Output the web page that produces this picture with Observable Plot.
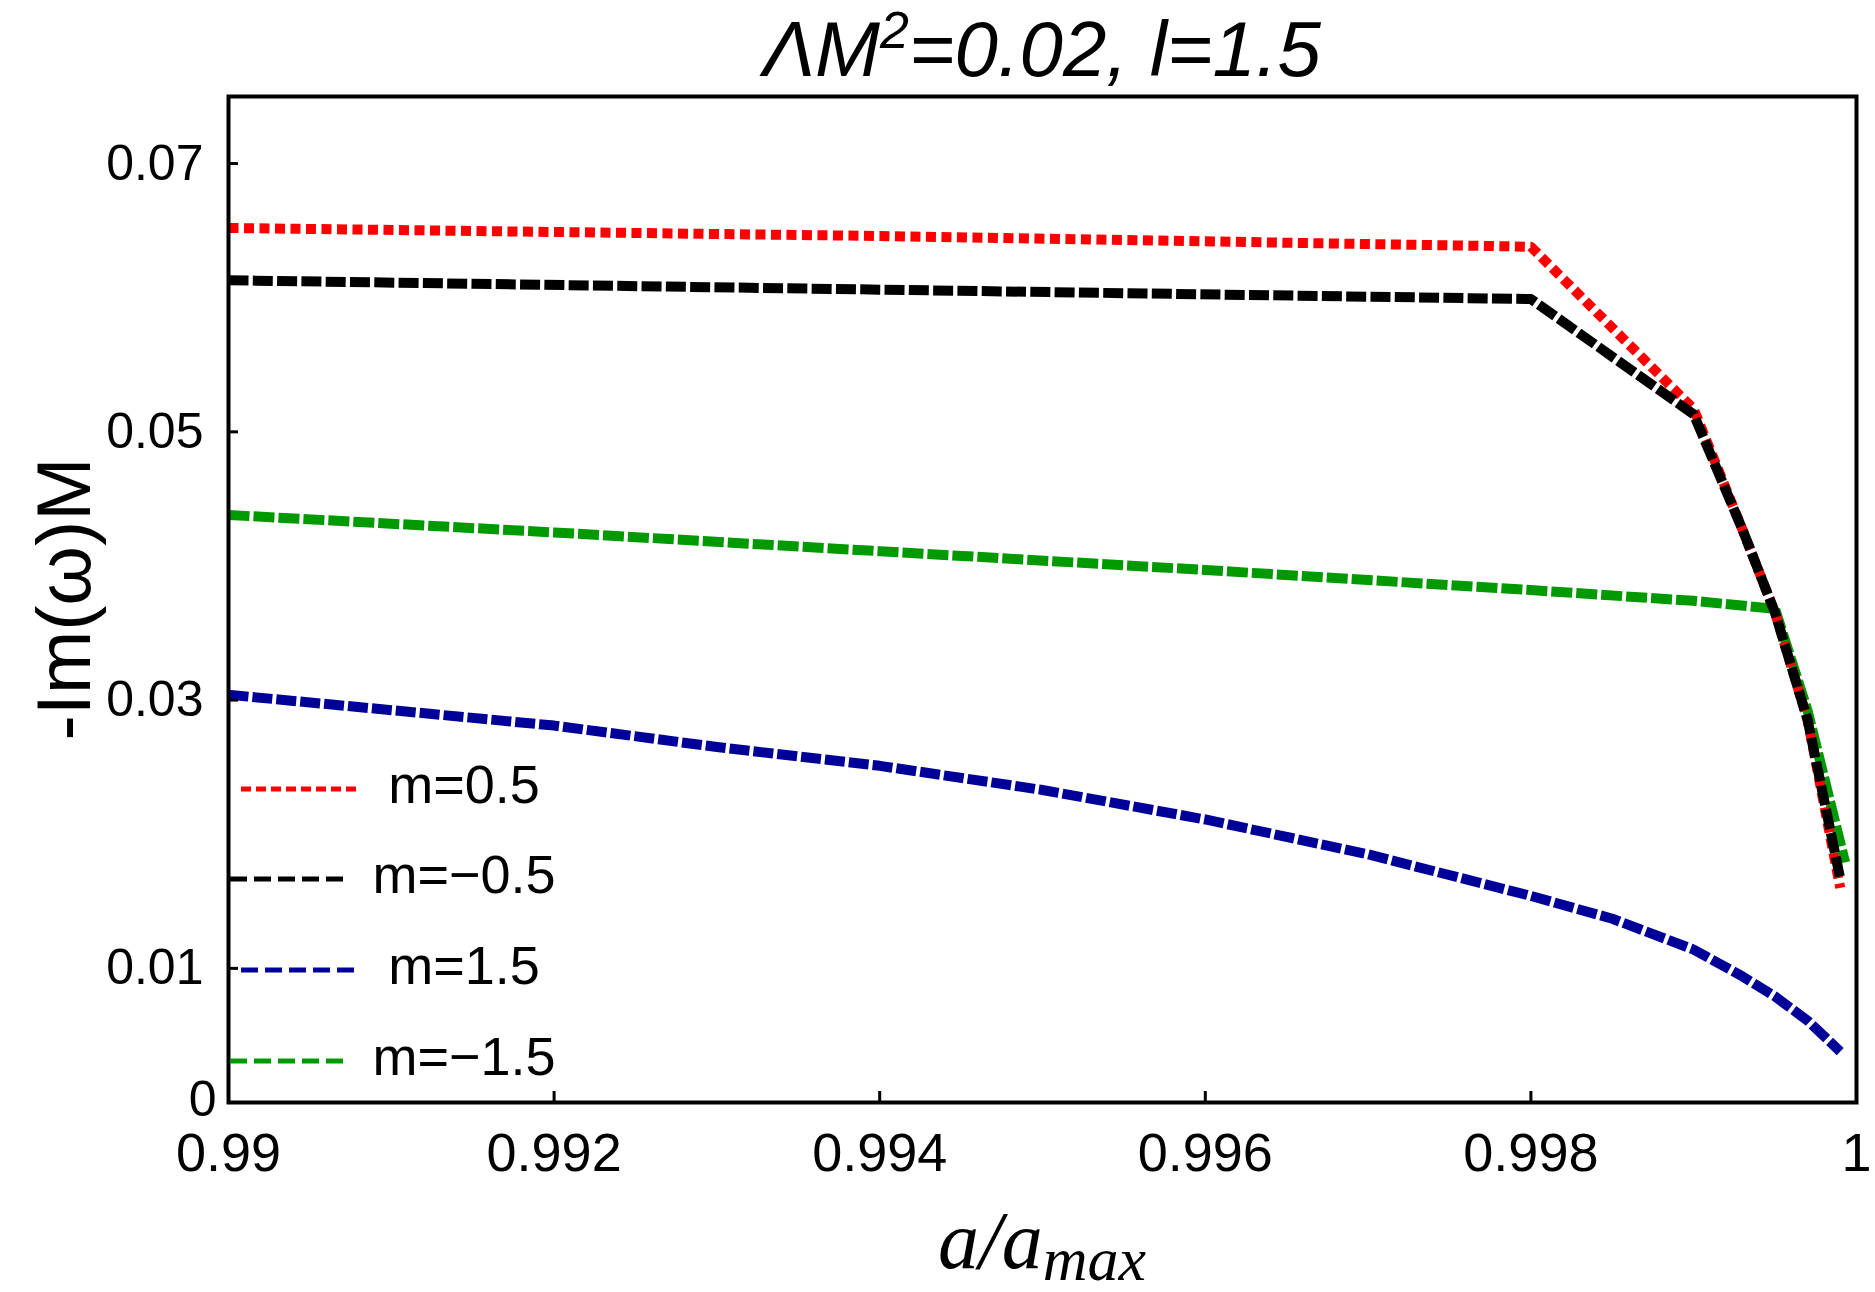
<!DOCTYPE html>
<html>
<head>
<meta charset="utf-8">
<script src="https://cdn.jsdelivr.net/npm/d3@7"></script>
<script src="https://cdn.jsdelivr.net/npm/@observablehq/plot@0.6"></script>
<style>
  html, body { margin: 0; padding: 0; background: #fff; }
  #wrap { position: relative; width: 1875px; height: 1292px; }
  #wrap svg { position: absolute; left: 0; top: 0; }
</style>
</head>
<body>
<div id="wrap"></div>
<script>
// ---- data ----
const seriesNames = ["m=0.5", "m=\u22120.5", "m=1.5", "m=\u22121.5"];

const aRed   = [0.99, 0.994, 0.998, 0.999, 0.9993, 0.9995, 0.9997, 0.9999];
const vRed   = [0.0652, 0.0646, 0.0638, 0.0517, 0.0427, 0.0365, 0.0285, 0.0160];

const aBlack = [0.99, 0.994, 0.998, 0.999, 0.9993, 0.9995, 0.9997, 0.9999];
const vBlack = [0.0613, 0.0606, 0.0599, 0.0513, 0.0427, 0.0365, 0.0285, 0.0167];

const aBlue  = [0.99, 0.992, 0.993, 0.994, 0.995, 0.996, 0.997, 0.998, 0.9985, 0.999, 0.9993, 0.9995, 0.9997, 0.9999];
const vBlue  = [0.0304, 0.0281, 0.0265, 0.0251, 0.0233, 0.0211, 0.0185, 0.0154, 0.0137, 0.0114, 0.0094, 0.0079, 0.0061, 0.0038];

const aGreen = [0.99, 0.992, 0.994, 0.996, 0.998, 0.999, 0.9995, 0.9997, 0.99993];
const vGreen = [0.0438, 0.0425, 0.0411, 0.0397, 0.0382, 0.0374, 0.0368, 0.0292, 0.0179];

const xTicks = [0.99, 0.992, 0.994, 0.996, 0.998, 1];
const yTicks = [0, 0.01, 0.03, 0.05, 0.07];
const xDomain = [0.99, 1.0];
const yDomain = [0, 0.075];

// ---- build tables ----
const toRows = (as, vs) => as.map((a, i) => ({a, v: vs[i]}));
const red = toRows(aRed, vRed);
const black = toRows(aBlack, vBlack);
const blue = toRows(aBlue, vBlue);
const green = toRows(aGreen, vGreen);

const W = 1875, H = 1292;
const mT = 96, mB = 190, mL = 228, mR = 19;
const frameW = W - mL - mR, frameH = H - mT - mB;
const LW = 10;
const yFmt = d => d === 0 ? "0" : d.toFixed(2);

const chart = Plot.plot({
  width: W, height: H,
  marginTop: mT, marginBottom: mB, marginLeft: mL, marginRight: mR,
  style: {fontFamily: "'Liberation Sans', Arial, sans-serif", background: "white", color: "black"},
  x: {domain: xDomain, label: null},
  y: {domain: yDomain, label: null},
  marks: [
    Plot.line(blue,  {x: "a", y: "v", stroke: "#000099", strokeWidth: LW, strokeDasharray: "20,4", strokeLinecap: "butt"}),
    Plot.line(green, {x: "a", y: "v", stroke: "#009900", strokeWidth: LW, strokeDasharray: "21,4", strokeLinecap: "butt"}),
    Plot.line(red,   {x: "a", y: "v", stroke: "#ff0000", strokeWidth: LW, strokeDasharray: "10,5.5", strokeLinecap: "butt"}),
    Plot.line(black, {x: "a", y: "v", stroke: "#000000", strokeWidth: LW, strokeDasharray: "20,4.3", strokeLinecap: "butt"}),
    // inward ticks
    Plot.ruleX(xTicks, {x: d => d, insetTop: frameH - 11, stroke: "black", strokeWidth: 3}),
    Plot.ruleY(yTicks, {y: d => d, insetRight: frameW - 10, stroke: "black", strokeWidth: 3}),
    Plot.frame({stroke: "black", strokeWidth: 4}),
    Plot.axisX(xTicks, {tickSize: 0, tickPadding: 30, fontSize: 54, tickFormat: d => d === 1 ? "1" : String(d), label: null}),
    Plot.axisY(yTicks.filter(d => d !== 0), {tickSize: 0, tickPadding: 25, fontSize: 50, tickFormat: yFmt, label: null}),
    Plot.axisY(yTicks.filter(d => d === 0), {tickSize: 0, tickPadding: 12, fontSize: 50, tickFormat: yFmt, label: null, dy: -3})
  ]
});
document.getElementById("wrap").appendChild(chart);

// ---- overlay: title, axis labels, legend ----
const ns = "http://www.w3.org/2000/svg";
const ov = document.createElementNS(ns, "svg");
ov.setAttribute("width", W); ov.setAttribute("height", H);
ov.style.pointerEvents = "none";
document.getElementById("wrap").appendChild(ov);

function el(tag, attrs, text) {
  const e = document.createElementNS(ns, tag);
  for (const k in attrs) e.setAttribute(k, attrs[k]);
  if (text != null) e.textContent = text;
  ov.appendChild(e);
  return e;
}
const tspan = (parent, txt, attrs) => {
  const t = document.createElementNS(ns, "tspan");
  for (const k in (attrs || {})) t.setAttribute(k, attrs[k]);
  t.textContent = txt; parent.appendChild(t); return t;
};

// title
const title = el("text", {x: mL + frameW / 2, y: 76, "text-anchor": "middle",
  "font-family": "'Liberation Sans', Arial, sans-serif", "font-style": "italic", "font-size": 78, fill: "black"});
tspan(title, "\u039BM");
tspan(title, "2", {"font-size": 52, dy: -28});
tspan(title, "=0.02, l=1.5", {dy: 28});

// y label
el("text", {transform: `translate(90, ${mT + frameH / 2}) rotate(-90)`, "text-anchor": "middle",
  "font-family": "'Liberation Sans', Arial, sans-serif", "font-size": 76, fill: "black"}, "-Im(\u03C9)M");

// x label
const xl = el("text", {x: mL + frameW / 2, y: 1268, "text-anchor": "middle",
  "font-family": "'Liberation Serif', 'Times New Roman', serif", "font-style": "italic", "font-size": 82, fill: "black"});
tspan(xl, "a/a");
tspan(xl, "max", {"font-size": 62, dy: 12});

// legend
const legendColors = ["#ff0000", "#000000", "#000099", "#009900"];
const legendDash = ["10,5", "17,7", "17,7", "17,7"];
const legendY = [789, 879, 970, 1061];
const legendX0 = [241, 230, 241, 230];
const legendX1 = [360, 343, 360, 343];
seriesNames.forEach((name, i) => {
  el("line", {x1: legendX0[i], x2: legendX1[i], y1: legendY[i], y2: legendY[i],
    stroke: legendColors[i], "stroke-width": 5, "stroke-dasharray": legendDash[i]});
  el("text", {x: 464, y: legendY[i] + 14, "text-anchor": "middle",
    "font-family": "'Liberation Sans', Arial, sans-serif", "font-size": 54, fill: "black"}, name);
});
</script>
</body>
</html>
